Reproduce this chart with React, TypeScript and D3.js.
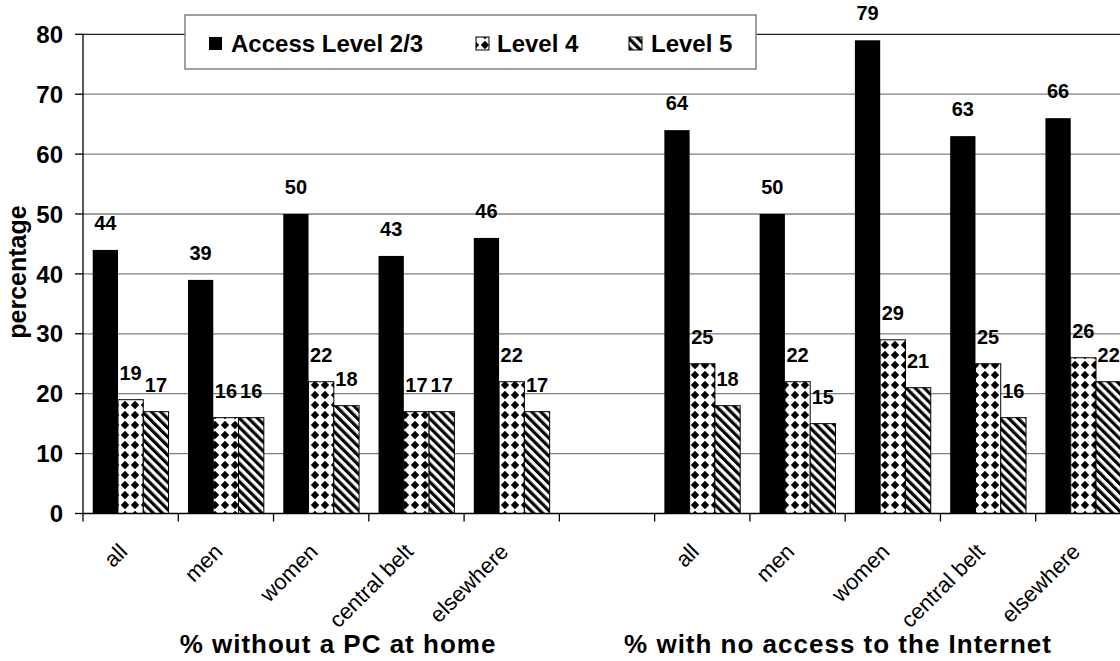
import React from "react";
import * as d3 from "d3";

const categories = ["all", "men", "women", "central belt", "elsewhere"];
const seriesNames = ["Access Level 2/3", "Level 4", "Level 5"];
const pcLevel23 = [44, 39, 50, 43, 46];
const pcLevel4 = [19, 16, 22, 17, 22];
const pcLevel5 = [17, 16, 18, 17, 17];
const netLevel23 = [64, 50, 79, 63, 66];
const netLevel4 = [25, 22, 29, 25, 26];
const netLevel5 = [18, 15, 21, 16, 22];
const groupTitles = ["% without a PC at home", "% with no access to the Internet"];
const yTicks = [0, 10, 20, 30, 40, 50, 60, 70, 80];

const FONT = "'Liberation Sans', Arial, sans-serif";
const W = 1120;
const H = 661;

type Slot = { key: string; label: string; values: number[] | null };

const slots: Slot[] = [
  ...categories.map((c, i) => ({ key: "pc" + i, label: c, values: [pcLevel23[i], pcLevel4[i], pcLevel5[i]] })),
  { key: "gap", label: "", values: null },
  ...categories.map((c, i) => ({ key: "net" + i, label: c, values: [netLevel23[i], netLevel4[i], netLevel5[i]] })),
];

const fills = ["#000", "url(#diamonds)", "url(#hatch)"];

export default function App() {
  const x = d3.scaleBand<string>().domain(slots.map((s) => s.key)).range([83, 1131]).padding(0);
  const bw = x.bandwidth();
  const inner = d3.scaleBand<number>().domain([0, 1, 2]).range([bw * 0.102, bw * 0.898]).padding(0);
  const y = d3.scaleLinear().domain([0, 80]).range([513.5, 34.3]);

  const tickXs = d3.range(slots.length + 1).map((i) => 83 + i * bw);

  return (
    <svg width={W} height={H} style={{ position: "absolute", left: 0, top: 0, background: "#fff" }} fontFamily={FONT}>
      <defs>
        <pattern id="diamonds" patternUnits="userSpaceOnUse" width={10} height={10}>
          <rect width={10} height={10} fill="#fff" />
          <path d="M5,0.8 L9.2,5 L5,9.2 L0.8,5 Z" fill="#000" />
          <path d="M0,-4.2 L4.2,0 L0,4.2 L-4.2,0 Z M10,-4.2 L14.2,0 L10,4.2 L5.8,0 Z M0,5.8 L4.2,10 L0,14.2 L-4.2,10 Z M10,5.8 L14.2,10 L10,14.2 L5.8,10 Z" fill="#fff" />
        </pattern>
        <pattern id="hatch" patternUnits="userSpaceOnUse" width={6.4} height={20} patternTransform="rotate(-45)">
          <rect width={6.4} height={20} fill="#fff" />
          <rect width={3.2} height={20} fill="#000" />
        </pattern>
      </defs>
      <rect width={W} height={H} fill="#fff" />

      {/* gridlines */}
      {yTicks.filter((t) => t > 0).map((t) => (
        <line key={t} x1={83} x2={1131} y1={y(t)} y2={y(t)} stroke={t === 80 ? "#222" : "#808080"} strokeWidth={1.3} />
      ))}

      {/* bars */}
      {slots.map((s) =>
        s.values
          ? s.values.map((v, j) => (
              <rect
                key={s.key + j}
                x={(x(s.key) as number) + (inner(j) as number)}
                y={y(v)}
                width={inner.bandwidth()}
                height={y(0) - y(v)}
                fill={fills[j]}
                stroke={j === 0 ? "none" : "#000"}
                strokeWidth={1}
              />
            ))
          : null
      )}

      {/* value labels */}
      {slots.map((s) =>
        s.values
          ? s.values.map((v, j) => (
              <text
                key={"l" + s.key + j}
                x={(x(s.key) as number) + (inner(j) as number) + inner.bandwidth() / 2}
                y={y(v) - 20}
                textAnchor="middle"
                fontSize={20}
                fontWeight="bold"
              >
                {v}
              </text>
            ))
          : null
      )}

      {/* y axis */}
      <line x1={83} x2={83} y1={y(80)} y2={y(0)} stroke="#000" strokeWidth={1.3} />
      {yTicks.map((t) => (
        <g key={"yt" + t}>
          <line x1={75} x2={83} y1={y(t)} y2={y(t)} stroke="#000" strokeWidth={1.3} />
          <text x={63} y={y(t)} dy="0.36em" textAnchor="end" fontSize={24} fontWeight="bold">
            {t}
          </text>
        </g>
      ))}
      <text transform={`translate(25.5,272) rotate(-90)`} textAnchor="middle" fontSize={25} fontWeight="bold">
        percentage
      </text>

      {/* x axis */}
      <line x1={83} x2={1131} y1={y(0)} y2={y(0)} stroke="#000" strokeWidth={1.3} />
      {tickXs.map((tx, i) => (
        <line key={"xt" + i} x1={tx} x2={tx} y1={y(0)} y2={y(0) + 8} stroke="#000" strokeWidth={1.3} />
      ))}
      {slots.map((s) =>
        s.label ? (
          <text
            key={"xl" + s.key}
            transform={`translate(${(x(s.key) as number) + bw / 2 - 2},553) rotate(-45)`}
            textAnchor="end"
            fontSize={22}
          >
            {s.label}
          </text>
        ) : null
      )}
      <text x={338} y={653} textAnchor="middle" fontSize={26} fontWeight="bold" letterSpacing={1}>
        {groupTitles[0]}
      </text>
      <text x={838} y={653} textAnchor="middle" fontSize={26} fontWeight="bold" letterSpacing={1}>
        {groupTitles[1]}
      </text>

      {/* legend */}
      <rect x={185} y={15} width={571} height={54} fill="#fff" stroke="#808080" strokeWidth={1.5} />
      {[
        { sx: 209, tx: 231 },
        { sx: 476, tx: 497 },
        { sx: 629, tx: 651 },
      ].map((p, i) => (
        <g key={"lg" + i}>
          <rect x={p.sx} y={37} width={13} height={13} fill={fills[i]} stroke={i === 0 ? "none" : "#000"} strokeWidth={1} />
          <text x={p.tx} y={52} fontSize={24} fontWeight="bold">
            {seriesNames[i]}
          </text>
        </g>
      ))}
    </svg>
  );
}
